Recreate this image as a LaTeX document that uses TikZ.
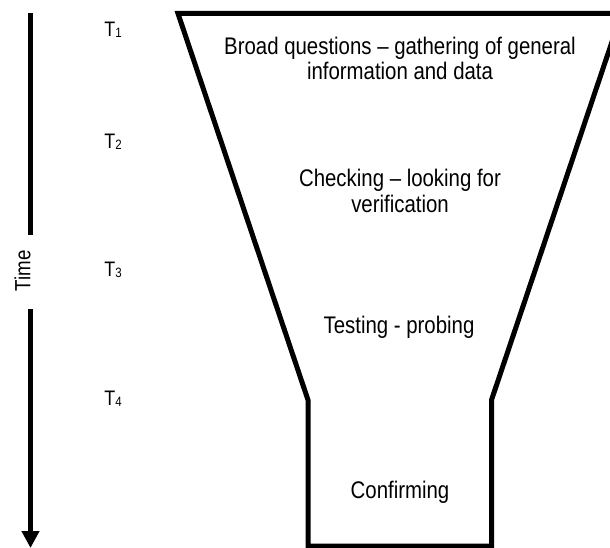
\documentclass[tikz,border=0pt]{standalone}
\usepackage{fontspec}
\setmainfont{Liberation Sans}[FakeStretch=0.85]
\usetikzlibrary{arrows.meta}
\newcommand{\tlabel}[1]{T\raisebox{-1.5pt}{\fontsize{13.5}{13.5}\selectfont #1}}
\begin{document}
\begin{tikzpicture}[x=1pt,y=-1pt,
  stage/.style={font=\fontsize{24}{25}\selectfont, align=center, inner sep=0pt, anchor=base},
  tick/.style={font=\fontsize{21}{21}\selectfont, inner sep=0pt},
  funnelline/.style={line width=5pt, line join=miter},
  timeline/.style={line width=5.5pt}]
  \useasboundingbox (0,0) rectangle (610,548);
  \clip (0,0) rectangle (610,548);

  % funnel outline
  \coordinate (ftl) at (178,13.5);
  \coordinate (ftr) at (621.5,13.5);
  \coordinate (fnr) at (491.5,400);
  \coordinate (fbr) at (491.5,546);
  \coordinate (fbl) at (308,546);
  \coordinate (fnl) at (308,400);
  \draw[funnelline] (ftl) -- (ftr) -- (fnr) -- (fbr) -- (fbl) -- (fnl) -- cycle;

  % stage descriptions (base anchor sits on the last line)
  \node[stage] (broad) at (400,80) {Broad questions -- gathering of general\\information and data};
  \node[stage] (check) at (400,212) {Checking -- looking for\\verification};
  \node[stage] (test) at (399,333) {Testing - probing};
  \node[stage] (confirm) at (400,498) {Confirming};

  % time markers
  \node[tick] (t1) at (113,30) {\tlabel{1}};
  \node[tick] (t2) at (113,142) {\tlabel{2}};
  \node[tick] (t3) at (113,270) {\tlabel{3}};
  \node[tick] (t4) at (113,399) {\tlabel{4}};

  % time axis
  \node[font=\fontsize{22}{22}\selectfont, rotate=90, inner sep=0pt] (time) at (22.5,271) {Time};
  \coordinate (axtop) at (30.5,13);
  \coordinate (gapa) at (30.5,235);
  \coordinate (gapb) at (30.5,309);
  \coordinate (axend) at (30.5,548);
  \draw[timeline] (axtop) -- (gapa);
  \draw[timeline, -{Triangle[width=17pt,length=17pt]}] (gapb) -- (axend);
\end{tikzpicture}
\end{document}
